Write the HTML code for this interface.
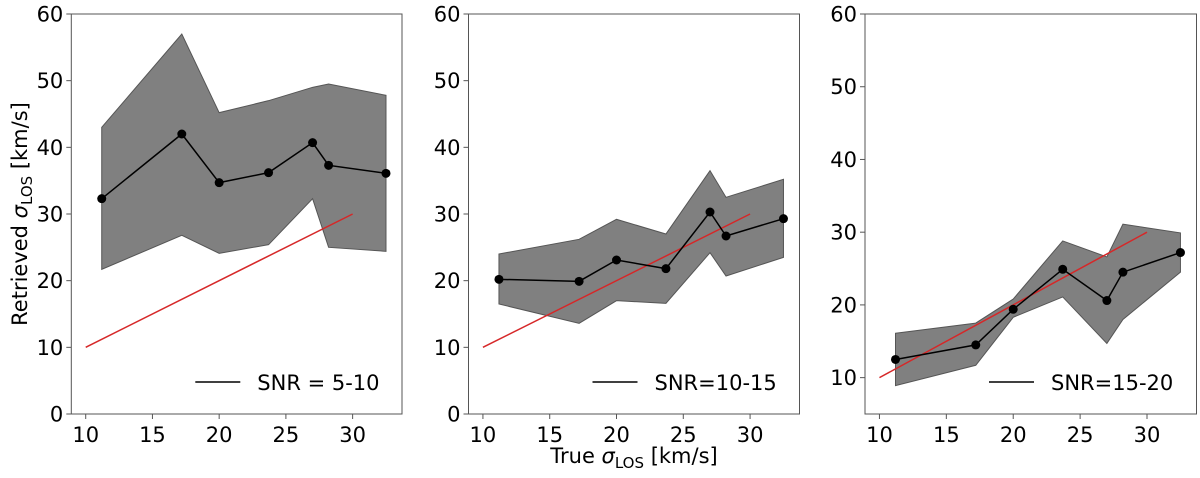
<!DOCTYPE html>
<html><head><meta charset="utf-8"><style>
html,body{margin:0;padding:0;background:#fff;}
svg text{font-family:"DejaVu Sans","Liberation Sans",sans-serif;fill:#000;}
</style></head><body>
<svg id="chart" width="1200" height="473" xmlns="http://www.w3.org/2000/svg"></svg>
<script>
const xs = [11.2, 17.2, 20, 23.7, 27, 28.2, 32.5];
const mean1 = [32.3, 42, 34.7, 36.2, 40.7, 37.3, 36.1];
const upper1 = [43, 57, 45.2, 47, 49, 49.5, 47.8];
const lower1 = [21.7, 26.8, 24.1, 25.4, 32.3, 25, 24.4];
const mean2 = [20.2, 19.9, 23.1, 21.8, 30.3, 26.7, 29.3];
const upper2 = [24, 26.2, 29.2, 27, 36.5, 32.5, 35.2];
const lower2 = [16.5, 13.6, 17, 16.6, 24.2, 20.7, 23.5];
const mean3 = [12.5, 14.5, 19.4, 24.9, 20.6, 24.5, 27.2];
const upper3 = [16.1, 17.5, 20.8, 28.8, 26.6, 31.1, 29.9];
const lower3 = [8.9, 11.7, 18.3, 21.1, 14.7, 18.0, 24.5];
const refX = [10, 30];
const refY = [10, 30];
const xTicks = [10, 15, 20, 25, 30];
const yTicks12 = [0, 10, 20, 30, 40, 50, 60];
const yTicks3 = [10, 20, 30, 40, 50, 60];
const legends = ["SNR = 5-10", "SNR=10-15", "SNR=15-20"];

const NS = "http://www.w3.org/2000/svg";
const svg = document.getElementById('chart');
function mk(tag, attrs, parent){const e=document.createElementNS(NS,tag);for(const k in attrs)e.setAttribute(k,attrs[k]);(parent||svg).appendChild(e);return e;}

const panels = [
 {left:71.3,right:402,ymin:0,ymax:60,mean:mean1,up:upper1,lo:lower1,yt:yTicks12,leg:legends[0]},
 {left:468.5,right:799.5,ymin:0,ymax:60,mean:mean2,up:upper2,lo:lower2,yt:yTicks12,leg:legends[1]},
 {left:865,right:1196.5,ymin:5,ymax:60,mean:mean3,up:upper3,lo:lower3,yt:yTicks3,leg:legends[2]}
];
const axTop=14,axBottom=414,xmin=8.92,xmax=33.7;

panels.forEach((p,i)=>{
  const g=mk('g',{});
  
  
  const X=v=>p.left+(v-xmin)/(xmax-xmin)*(p.right-p.left);
  const Y=v=>axBottom-(v-p.ymin)/(p.ymax-p.ymin)*(axBottom-axTop);
  let pts=xs.map((x,j)=>X(x)+','+Y(p.up[j]));
  pts=pts.concat(xs.map((x,j)=>X(x)+','+Y(p.lo[j])).reverse());
  const band=mk('polygon',{points:pts.join(' '),fill:'#808080',stroke:'#555','stroke-width':1},g);
  
  
  const rl=mk('line',{x1:X(refX[0]),y1:Y(refY[0]),x2:X(refX[1]),y2:Y(refY[1]),stroke:'#d62728','stroke-width':1.5},g);
  
  
  const ml=mk('polyline',{points:xs.map((x,j)=>X(x)+','+Y(p.mean[j])).join(' '),fill:'none',stroke:'#000','stroke-width':1.5},g);
  
  
  xs.forEach((x,j)=>{
    const c=mk('circle',{cx:X(x),cy:Y(p.mean[j]),r:4.5,fill:'#000'},g);
    
    
  });
  const fr=mk('rect',{x:p.left,y:axTop,width:p.right-p.left,height:axBottom-axTop,fill:'none',stroke:'#555','stroke-width':1},g);
  
  
  xTicks.forEach(t=>{
    mk('line',{x1:X(t),x2:X(t),y1:axBottom,y2:axBottom+5,stroke:'#555'},g);
    const tx=mk('text',{x:X(t),y:axBottom+28,'text-anchor':'middle','font-size':21},g);
    tx.textContent=t;
    
    
  });
  p.yt.forEach(t=>{
    mk('line',{x1:p.left-5,x2:p.left,y1:Y(t),y2:Y(t),stroke:'#555'},g);
    const tx=mk('text',{x:p.left-8,y:Y(t)+7.5,'text-anchor':'end','font-size':21},g);
    tx.textContent=t;
    
    
  });
  const lx=p.left+124;
  const ll=mk('line',{x1:lx,x2:lx+45,y1:382,y2:382,stroke:'#000','stroke-width':1.5},g);
  
  
  const lt=mk('text',{x:lx+62,y:390,'font-size':21},g);
  lt.textContent=p.leg;
  
  
});

const xl=mk('text',{x:634,y:463,'text-anchor':'middle','font-size':21});
xl.innerHTML='True <tspan font-style="italic">σ</tspan><tspan font-size="15" dy="5">LOS</tspan><tspan dy="-5"> [km/s]</tspan>';


const yl=mk('text',{x:0,y:0,'text-anchor':'middle','font-size':21,transform:'translate(27,214) rotate(-90)'});
yl.innerHTML='Retrieved <tspan font-style="italic">σ</tspan><tspan font-size="15" dy="5">LOS</tspan><tspan dy="-5"> [km/s]</tspan>';


</script>
</body></html>
